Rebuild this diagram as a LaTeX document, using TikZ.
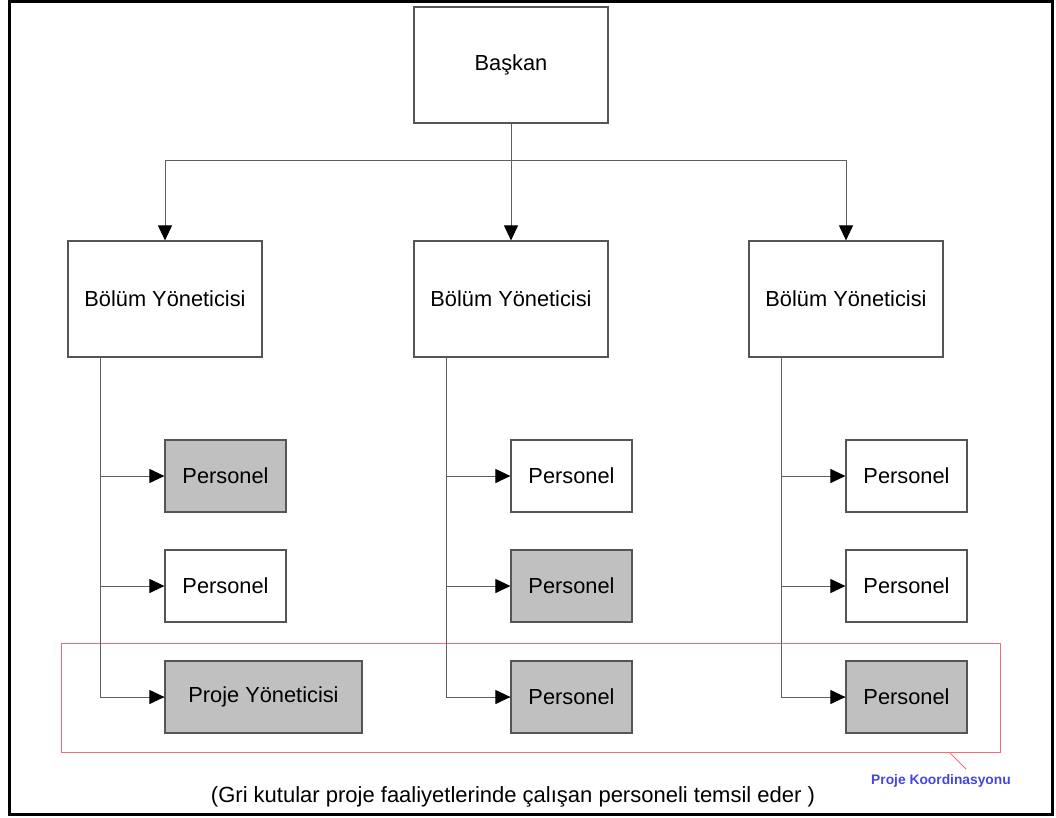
\documentclass[tikz,border=0pt]{standalone}
\usepackage{fontspec}
\setmainfont{Liberation Sans}
\usetikzlibrary{arrows.meta,calc}
\definecolor{edge}{RGB}{85,85,85}
\definecolor{wire}{RGB}{95,95,95}
\definecolor{shade}{RGB}{192,192,192}
\definecolor{koordred}{RGB}{240,110,120}
\definecolor{koordblue}{RGB}{70,70,220}
\tikzset{
  boxfont/.style={font=\fontsize{21.8}{26}\selectfont},
  unit/.style={draw=edge, line width=1.2pt, fill=white, minimum width=194pt,
    minimum height=116pt, inner sep=0pt, boxfont},
  staff/.style={draw=edge, line width=1.2pt, fill=white, minimum width=121pt,
    minimum height=72pt, inner sep=0pt, boxfont},
  active/.style={fill=shade},
  link/.style={draw=wire, line width=1pt, -{Triangle[length=15pt,width=14pt,color=black]}},
  plain/.style={draw=wire, line width=1pt}
}
\begin{document}
\begin{tikzpicture}[x=1pt,y=-1pt]
\useasboundingbox (0,0) rectangle (1056,817);
% outer frame
\draw[line width=3pt] (9,1) rectangle (1052,814);

% project coordination frame
\node[draw=koordred, line width=1pt, minimum width=939pt, minimum height=109pt,
  inner sep=0pt] (koord) at (530.5,697.5) {};

% top level
\node[unit] (baskan) at (511,65) {Başkan};

% department managers
\node[unit] (b1) at (165,299) {Bölüm Yöneticisi};
\node[unit] (b2) at (511,299) {Bölüm Yöneticisi};
\node[unit] (b3) at (846,299) {Bölüm Yöneticisi};

% staff, left department
\node[staff,active] (p11) at (225.5,476) {Personel};
\node[staff] (p12) at (225.5,586) {Personel};
\node[staff,active,minimum width=197pt] (p13) at (263.5,697) {Proje Yöneticisi};
% staff, middle department
\node[staff] (p21) at (571.5,476) {Personel};
\node[staff,active] (p22) at (571.5,586) {Personel};
\node[staff,active] (p23) at (571.5,697) {Personel};
% staff, right department
\node[staff] (p31) at (906.5,476) {Personel};
\node[staff] (p32) at (906.5,586) {Personel};
\node[staff,active] (p33) at (906.5,697) {Personel};

% chairman to managers
\coordinate (split) at (511,160);
\draw[link] (baskan.south) -- (b2.north);
\draw[link] (split) -| (b1.north);
\draw[link] (split) -| (b3.north);

% managers to staff
\foreach \d in {1,2,3}{
  \coordinate (t\d) at ([xshift=-65pt]b\d.south);
  \draw[plain] (t\d) |- (p\d3.west);
  \draw[link] (t\d |- p\d1.west) -- (p\d1.west);
  \draw[link] (t\d |- p\d2.west) -- (p\d2.west);
  \draw[link] (t\d |- p\d3.west) -- (p\d3.west);
}

% label for the coordination frame
\node[font=\bfseries\fontsize{13.8}{16}\selectfont, text=koordblue, inner sep=0pt]
  (klabel) at (941,781) {Proje Koordinasyonu};
\coordinate (kpin) at (949,752);
\draw[draw=koordred, line width=0.8pt] (kpin) -- (966,769);

% legend
\node[font=\fontsize{22}{26}\selectfont, inner sep=0pt] (note) at (513,797)
  {(Gri kutular proje faaliyetlerinde çalışan personeli temsil eder )};
\end{tikzpicture}
\end{document}
